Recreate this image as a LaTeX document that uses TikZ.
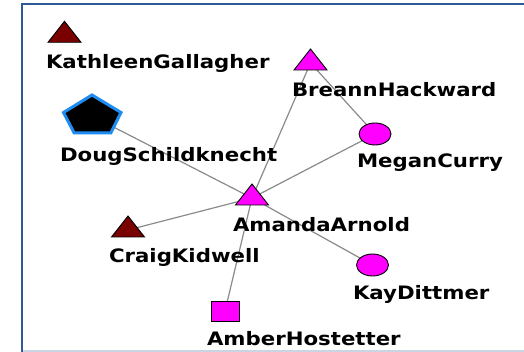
\documentclass[tikz,border=0pt]{standalone}
\usepackage{fontspec}
\usepackage{graphicx}
\newfontfamily\labfont{DejaVu Sans}
\definecolor{framecol}{HTML}{2F5A96}
\definecolor{framelow}{HTML}{C9D5E2}
\definecolor{edgecol}{HTML}{8A8A8A}
\definecolor{magentac}{HTML}{FF00FF}
\definecolor{maroonc}{HTML}{7A0000}
\definecolor{pentblue}{HTML}{1E8CF0}
\newcommand\lbl[1]{\scalebox{1.15}[1]{#1}}
\tikzset{
  edge/.style={draw=edgecol, line width=1.2pt},
  lab/.style={anchor=base west, inner sep=0pt, outer sep=0pt, text=black,
    font=\labfont\bfseries\fontsize{18.5}{20}\selectfont},
  outl/.style={draw=black, line width=0.9pt},
  pics/tri/.style={code={\filldraw[outl, fill=#1] (-16.5,7) -- (16.5,7) -- (0,-14) -- cycle;}},
  pics/circ/.style={code={\filldraw[outl, fill=#1] (0,0) ellipse [x radius=16, y radius=11];}},
  pics/sq/.style={code={\filldraw[outl, fill=#1] (-14,-10) rectangle (14,10);}},
}
\begin{document}
\begin{tikzpicture}[x=1pt,y=-1pt]
\useasboundingbox (0,0) rectangle (524,352);
\fill[white] (0,0) rectangle (524,352);
% frame
\draw[framelow, line width=2pt] (22,350.5) -- (524,350.5);
\draw[framecol, line width=2pt] (22,352) -- (22,4) -- (524,4);
% node centres
\coordinate (kath) at (64.5,35.3);
\coordinate (breann) at (310.5,63);
\coordinate (doug) at (92,116);
\coordinate (megan) at (375,134);
\coordinate (amanda) at (252,198);
\coordinate (craig) at (128,230);
\coordinate (kay) at (372.5,265);
\coordinate (amber) at (225,311);
% edges
\draw[edge] (doug) -- (amanda);
\draw[edge] (breann) -- (amanda);
\draw[edge] (breann) -- (megan);
\draw[edge] (megan) -- (amanda);
\draw[edge] (craig) -- (amanda);
\draw[edge] (amanda) -- (kay);
\draw[edge] (amanda) -- (amber);
% shapes
\pic at (kath) {tri=maroonc};
\pic at (breann) {tri=magentac};
\pic at (amanda) {tri=magentac};
\pic at (craig) {tri=maroonc};
\pic at (megan) {circ=magentac};
\pic at (kay) {circ=magentac};
\pic at (amber) {sq=magentac};
\filldraw[draw=pentblue, fill=black, line width=3pt, line join=miter]
  (92,95) -- (121,112.5) -- (110.8,133) -- (74.2,133) -- (63.5,112.5) -- cycle;
% labels
\node[lab] (lkath) at (46,69) {\lbl{KathleenGallagher}};
\node[lab] (lbreann) at (292,96.5) {\lbl{BreannHackward}};
\node[lab] (ldoug) at (60,161.5) {\lbl{DougSchildknecht}};
\node[lab] (lmegan) at (357,168) {\lbl{MeganCurry}};
\node[lab] (lamanda) at (233,231.5) {\lbl{AmandaArnold}};
\node[lab] (lcraig) at (109,263) {\lbl{CraigKidwell}};
\node[lab] (lkay) at (353,299) {\lbl{KayDittmer}};
\node[lab] (lamber) at (207,345) {\lbl{AmberHostetter}};
\end{tikzpicture}
\end{document}
